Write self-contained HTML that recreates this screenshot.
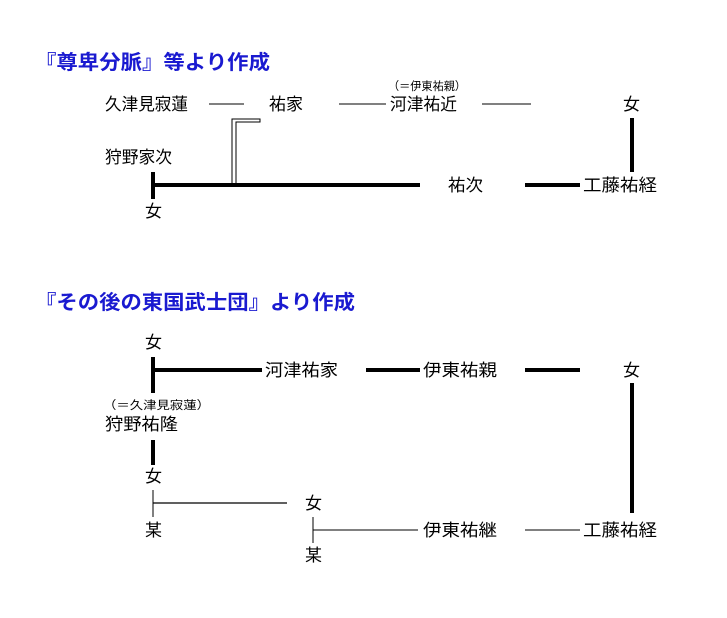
<!DOCTYPE html>
<html><head><meta charset="utf-8"><style>
html,body{margin:0;padding:0;background:#fff;}
svg{display:block;}
text{font-family:"Liberation Sans","Noto Sans CJK JP",sans-serif;fill:#000;}
.t{font-size:17px;}
.s{font-size:11.5px;}
.h{font-size:20px;font-weight:bold;fill:#1a1ad0;}
</style></head><body>
<svg width="727" height="618" viewBox="0 0 727 618" xmlns="http://www.w3.org/2000/svg">
<g stroke="#000" fill="none">
<line x1="209" y1="104" x2="244" y2="104" stroke-width="1"/>
<line x1="339" y1="104" x2="386" y2="104" stroke-width="1"/>
<line x1="482" y1="104" x2="531" y2="104" stroke-width="1"/>
<line x1="632" y1="118" x2="632" y2="172" stroke-width="4"/>
<line x1="525" y1="185" x2="580" y2="185" stroke-width="4"/>
<line x1="153" y1="185" x2="420" y2="185" stroke-width="4"/>
<line x1="153" y1="172" x2="153" y2="199" stroke-width="4"/>
<path d="M232 185 V119 H260 V122 H236 V185" stroke-width="1"/>
<line x1="153" y1="357" x2="153" y2="393" stroke-width="4"/>
<line x1="153" y1="370" x2="262" y2="370" stroke-width="4"/>
<line x1="366" y1="370" x2="420" y2="370" stroke-width="4"/>
<line x1="525" y1="370" x2="580" y2="370" stroke-width="4"/>
<line x1="632" y1="383" x2="632" y2="513" stroke-width="4"/>
<line x1="153" y1="440" x2="153" y2="465" stroke-width="4"/>
<line x1="153" y1="490" x2="153" y2="517" stroke-width="1"/>
<line x1="153" y1="503" x2="287" y2="503" stroke-width="1.3"/>
<line x1="313" y1="517" x2="313" y2="543" stroke-width="1"/>
<line x1="313" y1="530" x2="418" y2="530" stroke-width="1"/>
<line x1="525" y1="530" x2="580" y2="530" stroke-width="1"/>
</g>
<text class="h" x="35" y="69" textLength="235" lengthAdjust="spacingAndGlyphs">『尊卑分脈』等より作成</text>
<text class="t" x="105" y="110" textLength="83" lengthAdjust="spacingAndGlyphs">久津見寂蓮</text>
<text class="t" x="269" y="110" textLength="34" lengthAdjust="spacingAndGlyphs">祐家</text>
<text class="s" x="388" y="90" textLength="78" lengthAdjust="spacingAndGlyphs">（＝伊東祐親）</text>
<text class="t" x="390" y="110" textLength="67" lengthAdjust="spacingAndGlyphs">河津祐近</text>
<text class="t" x="623" y="110">女</text>
<text class="t" x="105" y="163" textLength="67" lengthAdjust="spacingAndGlyphs">狩野家次</text>
<text class="t" x="448" y="191" textLength="35" lengthAdjust="spacingAndGlyphs">祐次</text>
<text class="t" x="583" y="191" textLength="74" lengthAdjust="spacingAndGlyphs">工藤祐経</text>
<text class="t" x="145" y="217">女</text>

<text class="h" x="35" y="309" textLength="320" lengthAdjust="spacingAndGlyphs">『その後の東国武士団』より作成</text>
<text class="t" x="145" y="348">女</text>
<text class="t" x="265" y="376" textLength="73" lengthAdjust="spacingAndGlyphs">河津祐家</text>
<text class="t" x="423" y="376" textLength="74" lengthAdjust="spacingAndGlyphs">伊東祐親</text>
<text class="t" x="623" y="376">女</text>
<text class="s" x="103" y="409" textLength="107" lengthAdjust="spacingAndGlyphs">（＝久津見寂蓮）</text>
<text class="t" x="105" y="430" textLength="73" lengthAdjust="spacingAndGlyphs">狩野祐隆</text>
<text class="t" x="145" y="482">女</text>
<text class="t" x="305" y="509">女</text>
<text class="t" x="145" y="536">某</text>
<text class="t" x="423" y="536" textLength="74" lengthAdjust="spacingAndGlyphs">伊東祐継</text>
<text class="t" x="583" y="536" textLength="74" lengthAdjust="spacingAndGlyphs">工藤祐経</text>
<text class="t" x="305" y="561">某</text>
</svg>
</body></html>
